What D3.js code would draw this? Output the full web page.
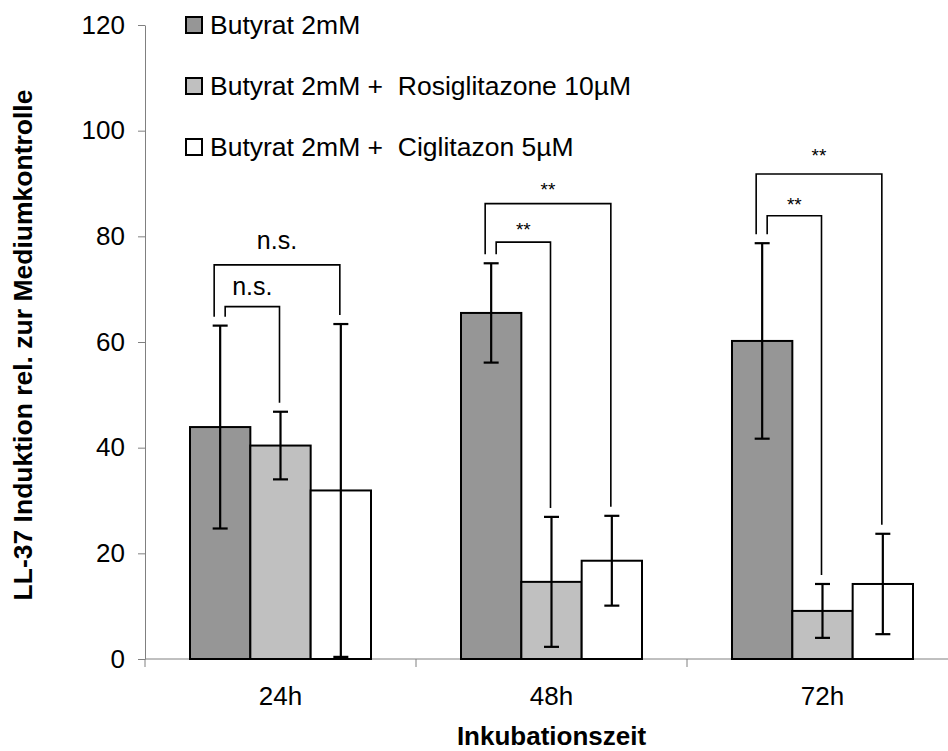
<!DOCTYPE html>
<html>
<head>
<meta charset="utf-8">
<script src="https://cdn.jsdelivr.net/npm/d3@7"></script>
<style>
  html, body { margin: 0; padding: 0; background: #fff; }
  svg { display: block; font-family: "Liberation Sans", Arial, sans-serif; }
</style>
</head>
<body>
<svg id="chart" width="948" height="751"></svg>
<script>
// Incubation times and treatment groups
const categories = ["24h", "48h", "72h"];
const seriesNames = [
  "Butyrat 2mM",
  "Butyrat 2mM +  Rosiglitazone 10µM",
  "Butyrat 2mM +  Ciglitazon 5µM"
];

// LL-37 induction relative to medium control (mean and error)
const butyrat      = [43.9, 65.5, 60.2];
const butyratErr   = [19.2, 9.4, 18.5];
const rosi         = [40.4, 14.6, 9.1];
const rosiErr      = [6.4, 12.3, 5.1];
const cigli        = [31.9, 18.6, 14.2];
const cigliErr     = [31.5, 8.5, 9.5];

const yTicks = [0, 20, 40, 60, 80, 100, 120];

// Significance brackets: group, compared series, bracket level, label baseline (data units)
const bracketCat   = ["24h", "24h", "48h", "48h", "72h", "72h"];
const bracketTo    = [2, 1, 2, 1, 2, 1];
const bracketLevel = [74.6, 66.7, 86.2, 78.9, 91.8, 83.9];
const bracketLabelAt = [77.6, 68.9, 87.7, 80.0, 94.0, 84.8];
const bracketLabel = ["n.s.", "n.s.", "**", "**", "**", "**"];

const fills = ["#969696", "#c0c0c0", "#ffffff"];
const means = [butyrat, rosi, cigli];
const errs  = [butyratErr, rosiErr, cigliErr];

const svg = d3.select("#chart");

const x0 = d3.scaleBand().domain(categories).range([145, 958]).paddingInner(0).paddingOuter(0);
const x1 = d3.scaleBand().domain(d3.range(seriesNames.length)).range([45, x0.bandwidth() - 45]);
const y = d3.scaleLinear().domain([0, 120]).range([659, 25]);

// Y axis
const yAxis = svg.append("g")
  .attr("transform", "translate(145,0)")
  .call(d3.axisLeft(y).tickValues(yTicks).tickSize(7).tickSizeOuter(0).tickPadding(13));
yAxis.select(".domain").attr("stroke", "#808080");
yAxis.selectAll(".tick line").attr("stroke", "#808080");
yAxis.selectAll(".tick text")
  .attr("font-size", 26).attr("fill", "#000")
  .attr("font-family", "'Liberation Sans', Arial, sans-serif");

// X axis baseline and group separators
svg.append("line")
  .attr("x1", x0.range()[0]).attr("x2", x0.range()[1])
  .attr("y1", y(0)).attr("y2", y(0))
  .attr("stroke", "#808080").attr("stroke-width", 1);
const sepX = categories.map(c => x0(c)).concat([x0.range()[1]]);
svg.selectAll(".xsep").data(sepX).enter().append("line")
  .attr("x1", d => d).attr("x2", d => d)
  .attr("y1", y(0)).attr("y2", y(0) + 8)
  .attr("stroke", "#808080").attr("stroke-width", 1);

svg.selectAll(".xlabel").data(categories).enter().append("text")
  .attr("x", d => x0(d) + x0.bandwidth() / 2)
  .attr("y", 705)
  .attr("text-anchor", "middle")
  .attr("font-size", 26)
  .text(d => d);

// Bars
const capW = 15;
categories.forEach((cat, ci) => {
  means.forEach((vals, si) => {
    const bx = x0(cat) + x1(si);
    const bw = x1.bandwidth();
    const v = vals[ci];
    svg.append("rect")
      .attr("x", bx).attr("y", y(v))
      .attr("width", bw).attr("height", y(0) - y(v))
      .attr("fill", fills[si]).attr("stroke", "#000").attr("stroke-width", 2);
  });
});
// Error bars
categories.forEach((cat, ci) => {
  means.forEach((vals, si) => {
    const cx = x0(cat) + x1(si) + x1.bandwidth() / 2;
    const v = vals[ci], e = errs[si][ci];
    const lo = y(Math.max(0, v - e)), hi = y(v + e);
    const g = svg.append("g").attr("stroke", "#000").attr("stroke-width", 2.2);
    g.append("line").attr("x1", cx).attr("x2", cx).attr("y1", hi).attr("y2", lo);
    g.append("line").attr("x1", cx - capW / 2).attr("x2", cx + capW / 2).attr("y1", hi).attr("y2", hi);
    g.append("line").attr("x1", cx - capW / 2).attr("x2", cx + capW / 2).attr("y1", lo).attr("y2", lo);
  });
});

// Significance brackets
const legGap = 1.7;
bracketCat.forEach((cat, i) => {
  const ci = categories.indexOf(cat);
  const to = bracketTo[i];
  const outer = to === 2;
  const leftX = x0(cat) + x1(0) + x1.bandwidth() / 2 + (outer ? -6 : 5);
  const rightX = x0(cat) + x1(to) + x1.bandwidth() / 2 - 1;
  const lvl = y(bracketLevel[i]);
  const leftEnd = y(means[0][ci] + errs[0][ci] + legGap);
  const rightEnd = y(means[to][ci] + errs[to][ci] + legGap);
  svg.append("path")
    .attr("d", `M${leftX},${leftEnd}V${lvl}H${rightX}V${rightEnd}`)
    .attr("fill", "none").attr("stroke", "#000").attr("stroke-width", 1.6);
  const isStar = bracketLabel[i] === "**";
  svg.append("text")
    .attr("x", (leftX + rightX) / 2)
    .attr("y", y(bracketLabelAt[i]))
    .attr("text-anchor", "middle")
    .attr("font-size", isStar ? 19 : 25)
    .text(bracketLabel[i]);
});

// Legend
const legend = svg.append("g");
const rowY = [25, 86, 147];
seriesNames.forEach((name, i) => {
  legend.append("rect")
    .attr("x", 186).attr("y", rowY[i] - 8)
    .attr("width", 16).attr("height", 16)
    .attr("fill", fills[i]).attr("stroke", "#000").attr("stroke-width", 2);
  legend.append("text")
    .attr("x", 210).attr("y", rowY[i] + 9)
    .attr("font-size", 26.5)
    .attr("xml:space", "preserve")
    .style("white-space", "pre")
    .text(name);
});

// Axis titles
svg.append("text")
  .attr("transform", "translate(32,345) rotate(-90)")
  .attr("text-anchor", "middle")
  .attr("font-size", 26.5).attr("font-weight", "bold")
  .text("LL-37 Induktion rel. zur Mediumkontrolle");
svg.append("text")
  .attr("x", x0("48h") + x0.bandwidth() / 2)
  .attr("y", 745)
  .attr("text-anchor", "middle")
  .attr("font-size", 26).attr("font-weight", "bold")
  .text("Inkubationszeit");
</script>
</body>
</html>
